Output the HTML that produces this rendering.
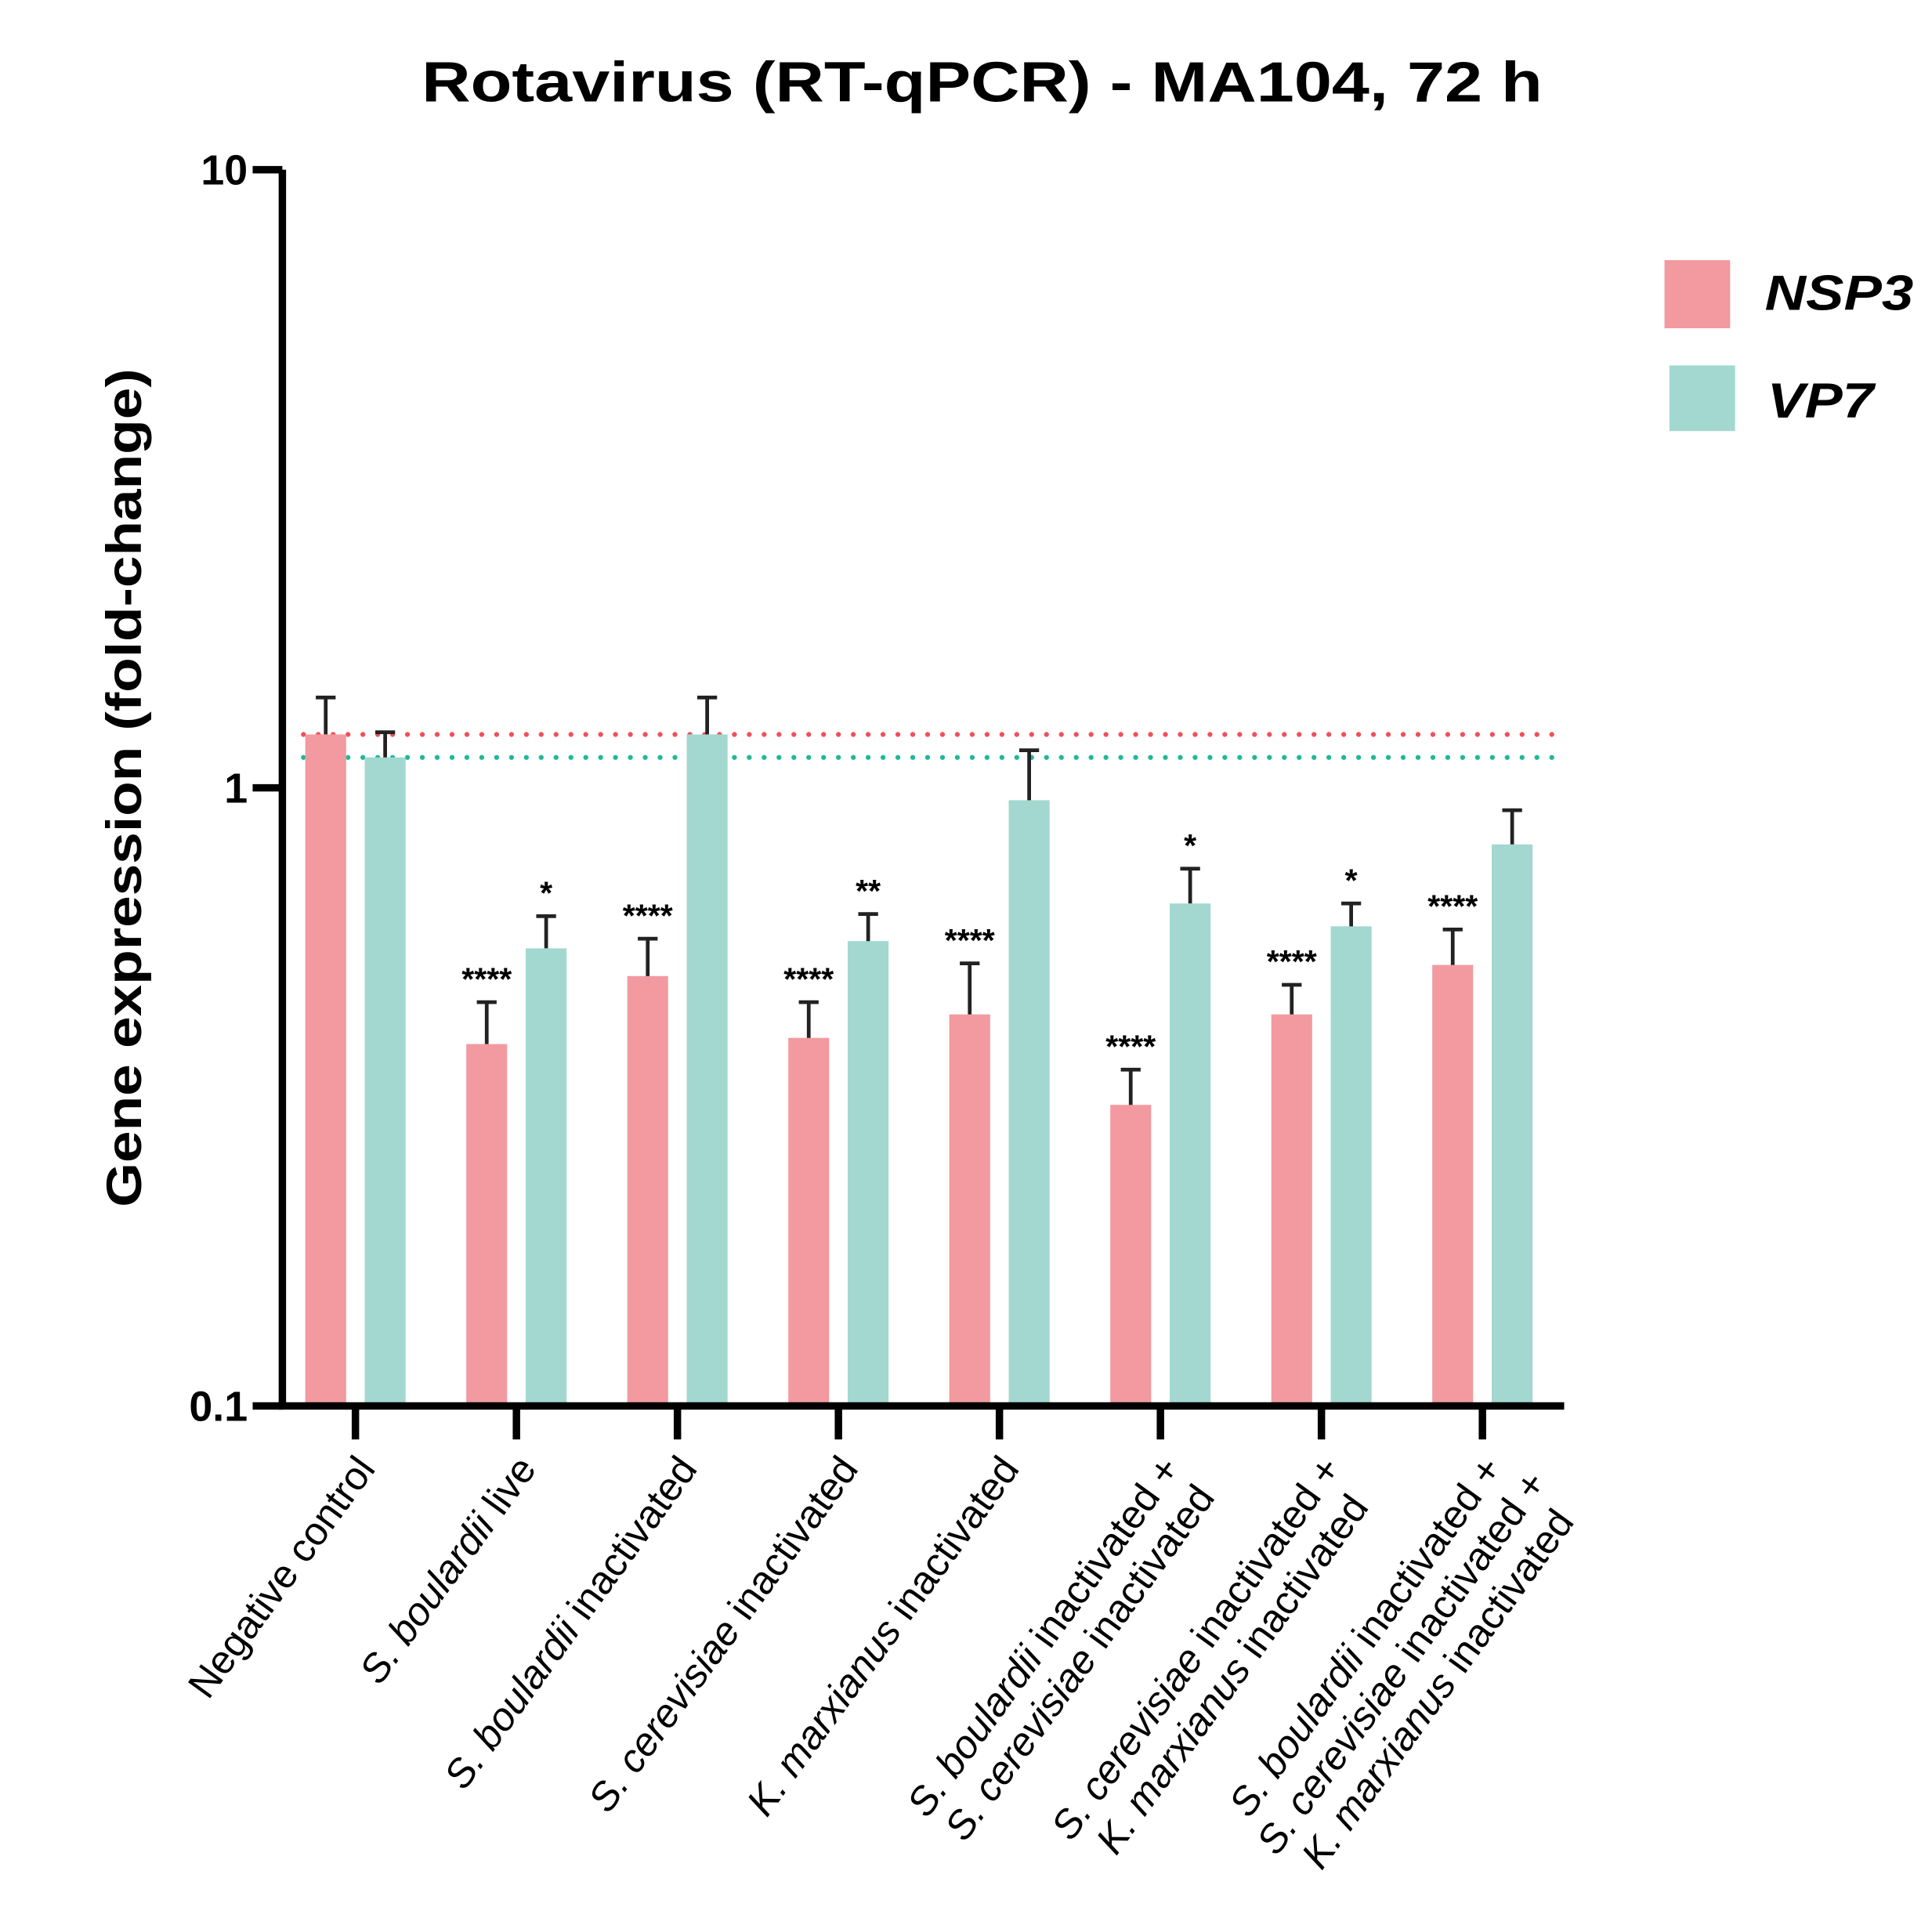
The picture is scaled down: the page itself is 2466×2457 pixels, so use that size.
<!DOCTYPE html>
<html><head><meta charset="utf-8"><style>
html,body{margin:0;padding:0;background:#fff;}
svg{display:block;}
text{font-family:"Liberation Sans",Arial,sans-serif;}
</style></head><body>
<svg id="chart" width="2466" height="2457" viewBox="0 0 1560 1554" preserveAspectRatio="none" xmlns="http://www.w3.org/2000/svg">
<rect width="1560" height="1554" fill="#fff"/>
<text x="793" y="82" text-anchor="middle" font-size="46" font-weight="bold" textLength="905" lengthAdjust="spacingAndGlyphs">Rotavirus (RT-qPCR) - MA104, 72 h</text>
<text transform="translate(114,636) rotate(-90)" text-anchor="middle" font-size="40" font-weight="bold" textLength="677" lengthAdjust="spacingAndGlyphs">Gene expression (fold-change)</text>
<g id="plot"></g>
<g>
<rect x="1344" y="210" width="53" height="55" fill="#f29aa0"/>
<text x="1425" y="250" font-size="40" font-weight="bold" font-style="italic" textLength="120" lengthAdjust="spacingAndGlyphs">NSP3</text>
<rect x="1348" y="295" width="53" height="53" fill="#a2d8cf"/>
<text x="1427" y="337" font-size="40" font-weight="bold" font-style="italic" textLength="86" lengthAdjust="spacingAndGlyphs">VP7</text>
</g>
</svg>
<script>
const categories = [["Negative control"],["S. boulardii live"],["S. boulardii inactivated"],["S. cerevisiae inactivated"],["K. marxianus inactivated"],["S. boulardii inactivated +","S. cerevisiae inactivated"],["S. cerevisiae inactivated +","K. marxianus inactivated"],["S. boulardii inactivated +","S. cerevisiae inactivated +","K. marxianus inactivated"]];
const nsp3Values = [1.22,0.385,0.496,0.394,0.43,0.307,0.43,0.517];
const nsp3Errors = [1.40,0.45,0.57,0.45,0.52,0.35,0.48,0.59];
const vp7Values = [1.12,0.55,1.22,0.565,0.955,0.65,0.597,0.81];
const vp7Errors = [1.23,0.62,1.40,0.625,1.15,0.74,0.65,0.92];
const nsp3Stars = ["","****","****","****","****","****","****","****"];
const vp7Stars = ["","*","","**","","*","*",""];
const yTicks = [10,1,0.1];
const yTickLabels = ["10","1","0.1"];
const nsp3Ref = 1.22;
const vp7Ref = 1.12;

const NS="http://www.w3.org/2000/svg";
const plot=document.getElementById('plot');
const X0=228, X1=1263, YTOP=137, YBOT=1135;
function yScale(v){return YBOT-(Math.log10(v)-Math.log10(0.1))/2*(YBOT-YTOP);}
function xScale(i){return 287+i*(1197-287)/7;}
function mk(tag,attrs,parent){const e=document.createElementNS(NS,tag);for(const k in attrs)e.setAttribute(k,attrs[k]);(parent||plot).appendChild(e);return e;}

let l=mk('line',{x1:245,x2:1263,y1:yScale(nsp3Ref),y2:yScale(nsp3Ref),stroke:'#f0505a','stroke-width':4,'stroke-dasharray':'0 12','stroke-linecap':'round'});


l=mk('line',{x1:245,x2:1263,y1:yScale(vp7Ref),y2:yScale(vp7Ref),stroke:'#1fb89a','stroke-width':4,'stroke-dasharray':'0 12','stroke-linecap':'round'});



const BW=33, OFF=24;
function bar(cx,v,err,stars,color,name){
  const y=yScale(v);
  const r=mk('rect',{x:cx-BW/2,y:y,width:BW,height:YBOT-y,fill:color});
  
  
  const ye=yScale(err);
  const e=mk('path',{d:`M${cx},${y} V${ye} M${cx-8},${ye} H${cx+8}`,stroke:'#222','stroke-width':3,fill:'none'});
  
  
  if(stars){
    const t=mk('text',{x:cx,y:ye-10,'text-anchor':'middle','font-size':26,'font-weight':'bold'});
    t.textContent=stars;
    
    
  }
}
const ANG=54*Math.PI/180;
const dir=[Math.cos(ANG),-Math.sin(ANG)], perp=[Math.sin(ANG),Math.cos(ANG)];
const LS=36;
for(let i=0;i<categories.length;i++){
  const c=xScale(i);
  bar(c-OFF,nsp3Values[i],nsp3Errors[i],nsp3Stars[i],'#f29aa0','bar-nsp3-'+i);
  bar(c+OFF,vp7Values[i],vp7Errors[i],vp7Stars[i],'#a2d8cf','bar-vp7-'+i);
  const tk=mk('line',{x1:c,x2:c,y1:YBOT,y2:1162,stroke:'#000','stroke-width':6});
  
  
  const lines=categories[i];
  const g=mk('g',{});
  
  
  const texts=lines.map(s=>{
    const t=mk('text',{'text-anchor':'middle','font-size':32},g);
    const m=s.match(/^([SK]\. \w+)(.*)$/);
    if(m){const a=mk('tspan',{'font-style':'italic'},t);a.textContent=m[1];const b=mk('tspan',{},t);b.textContent=m[2];}
    else t.textContent=s;
    return t;
  });
  const w0=texts[0].getComputedTextLength();
  const endX=c+17, endY=1186;
  const cx0=endX-dir[0]*w0/2, cy0=endY-dir[1]*w0/2;
  texts.forEach((t,k)=>{
    const px=cx0+perp[0]*LS*k, py=cy0+perp[1]*LS*k;
    t.setAttribute('transform',`translate(${px},${py}) rotate(-54)`);
  });
}
let ax=mk('path',{d:`M${X0},${YTOP} V${YBOT}`,stroke:'#000','stroke-width':6,fill:'none'});


ax=mk('path',{d:`M${X0-3},${YBOT} H${X1}`,stroke:'#000','stroke-width':6,fill:'none'});


yTicks.forEach((v,i)=>{
  const y=yScale(v);
  const t=mk('line',{x1:204,x2:X0,y1:y,y2:y,stroke:'#000','stroke-width':6});
  
  
  const lb=mk('text',{x:200,y:y+12,'text-anchor':'end','font-size':34,'font-weight':'bold'});
  lb.textContent=yTickLabels[i];
  
  
});
</script>
</body></html>
